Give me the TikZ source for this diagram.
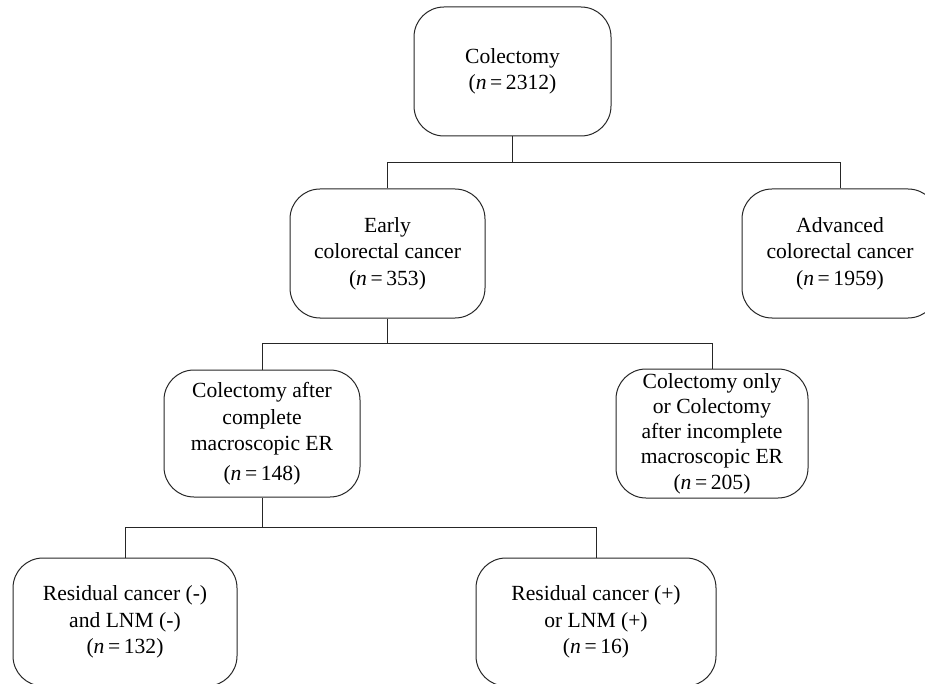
\documentclass[tikz,border=0pt]{standalone}
\usepackage{fontspec}
\setmainfont{Liberation Serif}
\begin{document}
\begin{tikzpicture}[x=1pt,y=-1pt,
  box/.style={draw=black!85, line width=1pt, rounded corners=30pt,
    minimum width=#1, minimum height=128pt, inner sep=0pt, align=center,
    font=\fontsize{21.6}{26.5}\selectfont},
  box/.default=196pt,
  link/.style={draw=black!85, line width=1pt}]
\useasboundingbox (0,0) rectangle (925,684);
\clip (0,0) rectangle (925,684);
\node[box=197pt, minimum height=129pt] (top) at (512.5,71.5) {Colectomy\\(\textit{n}\,=\,2312)};
\node[box=195pt, minimum height=129pt] (early) at (387.5,253.5) {Early\\colorectal cancer\\(\textit{n}\,=\,353)};
\node[box=196pt, minimum height=129pt] (adv) at (840,253.5) {Advanced\\colorectal cancer\\(\textit{n}\,=\,1959)};
\node[box=196pt, minimum height=127pt] (cafter) at (262,433.5) {Colectomy after\\complete\\macroscopic ER\\[3pt](\textit{n}\,=\,148)};
\node[box=192pt, minimum height=129pt, font=\fontsize{21.6}{25.3}\selectfont] (conly) at (712,433.5) {Colectomy only\\or Colectomy\\after incomplete\\macroscopic ER\\(\textit{n}\,=\,205)};
\node[box=224pt] (bl) at (125,622) {Residual cancer (-)\\and LNM (-)\\(\textit{n}\,=\,132)};
\node[box=240pt] (br) at (596,622) {Residual cancer (+)\\or LNM (+)\\(\textit{n}\,=\,16)};
\coordinate (b1) at (0,163);
\coordinate (b2) at (0,343);
\coordinate (b3) at (0,527);
\draw[link] (top.south) -- (top.south |- b1);
\draw[link] (early.north) -- (early.north |- b1) -- (adv.north |- b1) -- (adv.north);
\draw[link] (early.south) -- (early.south |- b2);
\draw[link] (cafter.north) -- (cafter.north |- b2) -- (conly.north |- b2) -- (conly.north);
\draw[link] (cafter.south) -- (cafter.south |- b3);
\draw[link] (bl.north) -- (bl.north |- b3) -- (br.north |- b3) -- (br.north);
\end{tikzpicture}
\end{document}
